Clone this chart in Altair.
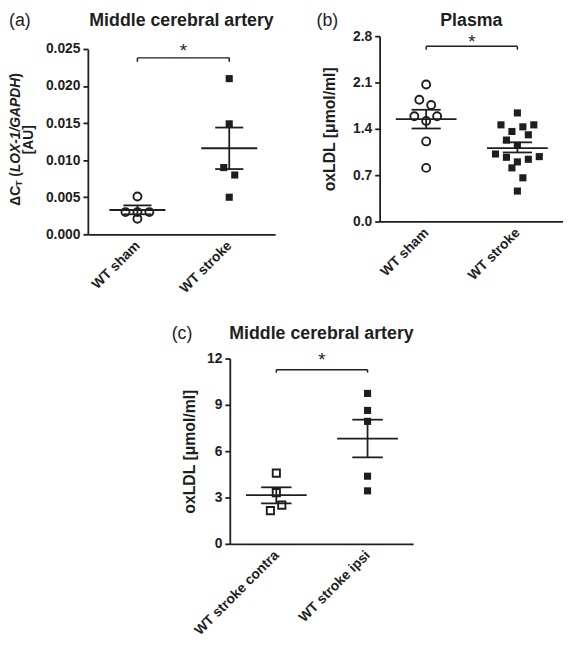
import altair as alt
import pandas as pd

# ---------------- data ----------------
# (a) Middle cerebral artery, dCT (LOX-1/GAPDH)
a_groups = ["WT sham", "WT stroke"]
a_sham = [0.0051, 0.0030, 0.0030, 0.0030, 0.0021]
a_sham_jit = [0.0, -0.13, 0.0, 0.13, 0.0]
a_stroke = [0.0210, 0.0149, 0.0090, 0.0080, 0.0050]
a_stroke_jit = [0.0, 0.0, -0.06, 0.06, 0.0]
a_mean = [0.00328, 0.01161]
a_sem_hi = [0.0039, 0.0144]
a_sem_lo = [0.0027, 0.0088]
a_ticks = [0.0, 0.005, 0.010, 0.015, 0.020, 0.025]
a_bracket = [0.0238, 0.02327, 0.0251]  # bracket, bracket ends, star

# (b) Plasma oxLDL
b_groups = ["WT sham", "WT stroke"]
b_sham = [2.07, 1.84, 1.76, 1.59, 1.52, 1.59, 1.21, 0.81]
b_sham_jit = [0.0, -0.075, 0.055, -0.13, 0.0, 0.12, 0.0, 0.0]
b_stroke = [1.64, 1.46, 1.43, 1.46, 1.36, 1.31, 1.23, 1.15,
            1.02, 0.97, 0.90, 0.94, 0.98, 0.81, 0.66, 0.46]
b_stroke_jit = [0.0, -0.18, 0.06, 0.18, -0.06, 0.12, -0.12, 0.0,
                -0.24, -0.12, 0.0, 0.12, 0.24, -0.06, 0.06, 0.0]
b_mean = [1.545, 1.107]
b_sem_hi = [1.688, 1.196]
b_sem_lo = [1.405, 1.043]
b_ticks = [0.0, 0.7, 1.4, 2.1, 2.8]
b_bracket = [2.646, 2.596, 2.75]

# (c) Middle cerebral artery oxLDL
c_groups = ["WT stroke contra", "WT stroke ipsi"]
c_contra = [4.58, 3.32, 2.51, 2.15]
c_contra_jit = [0.0, 0.0, 0.06, -0.065]
c_ipsi = [9.74, 8.64, 7.93, 4.38, 3.43]
c_ipsi_jit = [0.0, 0.0, 0.0, 0.0, 0.0]
c_mean = [3.15, 6.81]
c_sem_hi = [3.66, 8.04]
c_sem_lo = [2.62, 5.60]
c_ticks = [0, 3, 6, 9, 12]
c_bracket = [11.28, 11.09, 12.06]

FONT = "Liberation Sans"
INK = "#1e1e1e"
ONE = pd.DataFrame({"k": [0]})


def text_at(text, x, y, size, align="left", angle=0, style="normal",
            weight="bold", baseline="middle"):
    return alt.Chart(ONE).mark_text(
        text=text, font=FONT, fontSize=size, fontStyle=style,
        fontWeight=weight, align=align, baseline=baseline, angle=angle,
        color=INK,
    ).encode(x=alt.value(x), y=alt.value(y))


def panel(groups, v1, j1, v2, j2, mean, hi, lo, ticks, fmt, bracket,
          shape1, shape2, xdom, width, yrange, title, title_y, ytitle,
          ytitle_pad, label, label_x, mean_hw, cap_hw):
    pts1 = pd.DataFrame({"x": [1 + j for j in j1], "y": v1})
    pts2 = pd.DataFrame({"x": [2 + j for j in j2], "y": v2})
    stats = pd.DataFrame({"x": [1, 2], "mean": mean, "hi": hi, "lo": lo})
    br = pd.DataFrame({"x1": [1], "x2": [2], "xs": [1.5], "y": [bracket[0]],
                       "yt": [bracket[1]], "ys": [bracket[2]]})

    lab = ("datum.value == 1 ? '%s' : '%s'" % (groups[0], groups[1]))
    xscale = alt.Scale(domain=xdom, nice=False, zero=False)
    xaxis = alt.Axis(values=[1, 2], labelExpr=lab, ticks=False, title=None,
                     labelAngle=-45, labelAlign="right",
                     labelBaseline="middle", labelPadding=9, grid=False)
    yscale_args = dict(domain=[ticks[0], ticks[-1]], nice=False, zero=True)
    if yrange is not None:
        yscale_args["range"] = yrange
    yscale = alt.Scale(**yscale_args)
    yaxis = alt.Axis(values=ticks, format=fmt, title=ytitle, grid=False,
                     titlePadding=ytitle_pad, titleFontSize=16,
                     titleFontWeight="bold", titleFont=FONT, titleColor=INK)

    def X(f):
        return alt.X(f, type="quantitative", scale=xscale, axis=xaxis)

    def Y(f):
        return alt.Y(f, type="quantitative", scale=yscale, axis=yaxis)

    p1 = alt.Chart(pts1).mark_point(
        shape=shape1, filled=False, size=66 if shape1 == "circle" else 54,
        strokeWidth=1.9, color=INK, opacity=1,
    ).encode(x=X("x"), y=Y("y"))
    p2 = alt.Chart(pts2).mark_point(
        shape=shape2, filled=True, size=52, color=INK, opacity=1,
    ).encode(x=X("x"), y=Y("y"))

    base = alt.Chart(stats).transform_calculate(
        ml="datum.x - %f" % mean_hw, mr="datum.x + %f" % mean_hw,
        cl="datum.x - %f" % cap_hw, cr="datum.x + %f" % cap_hw,
    )
    rule = dict(color=INK, strokeWidth=1.8)
    m_line = base.mark_rule(**rule).encode(x=X("ml"), x2="mr", y=Y("mean"))
    c_hi = base.mark_rule(**rule).encode(x=X("cl"), x2="cr", y=Y("hi"))
    c_lo = base.mark_rule(**rule).encode(x=X("cl"), x2="cr", y=Y("lo"))
    vert = base.mark_rule(**rule).encode(x=X("x"), y=Y("lo"), y2="hi")

    brule = dict(color=INK, strokeWidth=1.5)
    b_h = alt.Chart(br).mark_rule(**brule).encode(x=X("x1"), x2="x2", y=Y("y"))
    b_l = alt.Chart(br).mark_rule(**brule).encode(x=X("x1"), y=Y("yt"), y2="y")
    b_r = alt.Chart(br).mark_rule(**brule).encode(x=X("x2"), y=Y("yt"), y2="y")
    star = alt.Chart(br).mark_text(
        text="*", font=FONT, fontSize=19, color=INK, baseline="middle", dy=3,
    ).encode(x=X("xs"), y=Y("ys"))

    plab = text_at(label, label_x, title_y, 18, weight="normal",
                   baseline="top")
    ptitle = text_at(title, width / 2.0, title_y, 18, align="center",
                     baseline="top")

    return [p1, p2, m_line, c_hi, c_lo, vert, b_h, b_l, b_r, star, plab,
            ptitle]


# ---------- panel (a) ----------
a_layers = panel(
    a_groups, a_sham, a_sham_jit, a_stroke, a_stroke_jit, a_mean, a_sem_hi,
    a_sem_lo, a_ticks, ".3f", a_bracket, "circle", "square",
    [0.46, 2.5], 190, [201, 13], "Middle cerebral artery", -24, None, 0,
    "(a)", -80, 0.305, 0.153)

# rich y title of panel (a), drawn as text pieces (bottom to top)
seg_y0 = 172.0
segs = [
    ("\u0394C", 14, "normal", 0.0, 19.4),
    ("T", 10, "normal", 3.0, 6.1 + 3.9),
    ("(", 14, "normal", 0.0, 4.7),
    ("LOX-1/GAPDH", 14, "italic", 0.0, 95.7),
    (")", 14, "normal", 0.0, 4.7),
]
pos = seg_y0
for txt, sz, st, dx, w in segs:
    a_layers.append(text_at(txt, -73 + dx, pos, sz, align="left",
                            angle=270, style=st))
    pos -= w
a_layers.append(text_at("[AU]", -60, 105, 14, align="center", angle=270))

chart_a = alt.layer(*a_layers).properties(width=190, height=201)

# ---------- panel (b) ----------
b_layers = panel(
    b_groups, b_sham, b_sham_jit, b_stroke, b_stroke_jit, b_mean, b_sem_hi,
    b_sem_lo, b_ticks, ".1f", b_bracket, "circle", "square",
    [0.49, 2.5], 186, None, "Plasma", -24, "oxLDL [\u03bcmol/ml]", 15,
    "(b)", -64, 0.333, 0.16)
chart_b = alt.layer(*b_layers).properties(width=186, height=188)

# ---------- panel (c) ----------
c_layers = panel(
    c_groups, c_contra, c_contra_jit, c_ipsi, c_ipsi_jit, c_mean, c_sem_hi,
    c_sem_lo, c_ticks, "d", c_bracket, "square", "square",
    [0.49, 2.5], 186, None, "Middle cerebral artery", -34,
    "oxLDL [\u03bcmol/ml]", 9, "(c)", -59, 0.333, 0.167)
chart_c = alt.layer(*c_layers).properties(width=186, height=188)

spacer = alt.Chart(ONE).mark_text(text="").encode(
    x=alt.value(0), y=alt.value(0)).properties(width=85, height=188)

top = alt.hconcat(chart_a, chart_b, spacing=42)
bottom = alt.hconcat(spacer, chart_c, spacing=0)

chart = alt.vconcat(top, bottom, spacing=30).properties(
    padding=0
).configure(
    font=FONT
).configure_view(
    stroke="transparent", strokeWidth=0
).configure_axis(
    domainColor=INK, domainWidth=1.8, tickColor=INK, tickWidth=1.8,
    tickSize=5, labelFont=FONT, labelFontSize=14, labelFontWeight="bold",
    labelColor=INK, labelPadding=3,
)

chart.save("out.html", embed_options={"renderer": "svg", "actions": False})
